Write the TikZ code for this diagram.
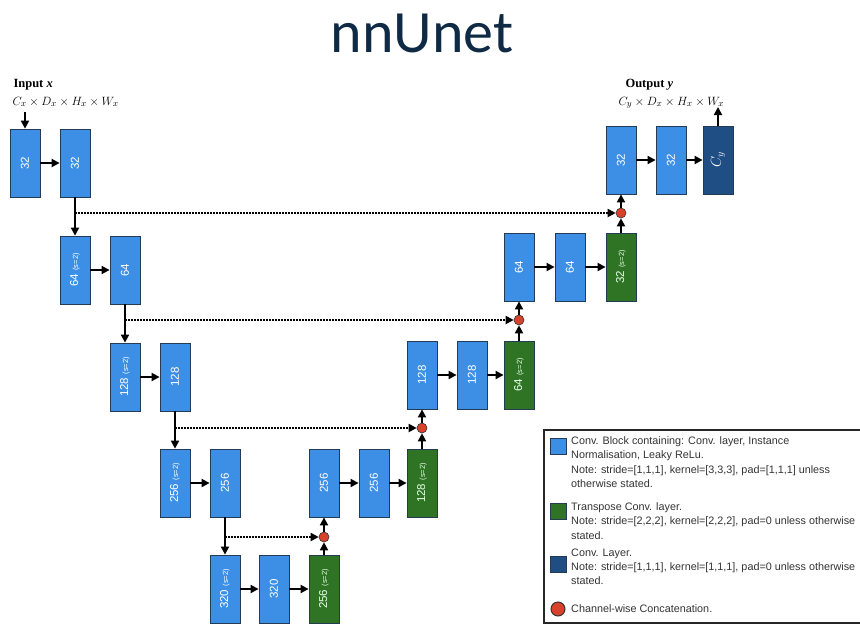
\documentclass[tikz,border=0pt]{standalone}
\usepackage{fontspec}
\setmainfont{Liberation Serif}
\setsansfont{Liberation Sans}
\newfontfamily\titlefont{Carlito}
\usetikzlibrary{arrows.meta}
\definecolor{convcol}{HTML}{3D8FE6}
\definecolor{tconvcol}{HTML}{2E7424}
\definecolor{outcol}{HTML}{1F4E84}
\definecolor{catcol}{HTML}{D8412C}
\definecolor{edgecol}{HTML}{243B55}
\definecolor{titlecol}{HTML}{0E2A45}
\definecolor{legcol}{HTML}{333333}
\newcommand{\strd}{\hspace{3.5pt}{\fontsize{7.5}{7.5}\selectfont(s=2)}}

\begin{document}
\begin{tikzpicture}[x=1pt,y=-1pt,>={Triangle[length=8pt,width=8pt]},
  blk/.style={rectangle,draw=edgecol,line width=0.8pt,minimum width=68pt,minimum height=30pt,inner sep=0pt,rotate=90,text=white,font=\sffamily\fontsize{11.5}{11.5}\selectfont},
  conv/.style={blk,fill=convcol},
  tconv/.style={blk,fill=tconvcol,text=green!10},
  outc/.style={blk,fill=outcol},
  cat/.style={circle,draw=black!80,fill=catcol,minimum size=10pt,inner sep=0pt,line width=0.6pt},
  arr/.style={->,line width=1.8pt},
  skip/.style={->,line width=1.8pt,dash pattern=on 1.5pt off 1.5pt},
  legsq/.style={rectangle,draw=edgecol,line width=0.8pt,minimum size=16pt,inner sep=0pt},
  legtxt/.style={align=left,inner sep=0pt,text=legcol,font=\sffamily\fontsize{10.8}{14.3}\selectfont}]
\clip (0,0) rectangle (860,627);
% title and in/out labels
\node[font=\titlefont\fontsize{60}{60}\selectfont,text=titlecol,anchor=base] (title) at (422,52) {nnUnet};
\node[anchor=base west,font=\fontsize{12.5}{14}\selectfont\bfseries] (inlab) at (10,87) {Input \textit{x}};
\node[anchor=base west,font=\fontsize{12.5}{14}\selectfont] (indim) at (9,105) {$C_x\times D_x\times H_x\times W_x$};
\node[anchor=base west,font=\fontsize{12.5}{14}\selectfont\bfseries] (outlab) at (622,87) {Output \textit{y}};
\node[anchor=base west,font=\fontsize{12.5}{14}\selectfont] (outdim) at (615,105) {$C_y\times D_x\times H_x\times W_x$};
\coordinate (inp) at (25,112);
\coordinate (outp) at (718,107);
% encoder
\node[conv] (enc0a) at (25,163) {32};
\node[conv] (enc0b) at (75,163) {32};
\node[conv] (enc1a) at (75,270) {64\strd};
\node[conv] (enc1b) at (125,270) {64};
\node[conv] (enc2a) at (125,377) {128\strd};
\node[conv] (enc2b) at (175,377) {128};
\node[conv] (enc3a) at (175,483) {256\strd};
\node[conv] (enc3b) at (225,483) {256};
% bottleneck
\node[conv] (bota) at (225,589) {320\strd};
\node[conv] (botb) at (274,589) {320};
\node[tconv] (up4) at (324,589) {256\strd};
% decoder
\node[conv] (dec3a) at (324,483) {256};
\node[conv] (dec3b) at (374,483) {256};
\node[tconv] (up3) at (422,483) {128\strd};
\node[conv] (dec2a) at (422,375) {128};
\node[conv] (dec2b) at (472,375) {128};
\node[tconv] (up2) at (519,375) {64\strd};
\node[conv] (dec1a) at (519,267) {64};
\node[conv] (dec1b) at (570,267) {64};
\node[tconv] (up1) at (621,267) {32\strd};
\node[conv] (dec0a) at (621,160) {32};
\node[conv] (dec0b) at (671,160) {32};
\node[outc] (head) at (718,160) {\Large$C_y$};
% concatenations
\node[cat] (cat3) at (324,537) {};
\node[cat] (cat2) at (422,428) {};
\node[cat] (cat1) at (519,320) {};
\node[cat] (cat0) at (621,213) {};
% connectors
\draw[arr] (inp) -- (enc0a);
\draw[arr] (enc0a) -- (enc0b);
\draw[arr] (enc0b) -- (enc1a);
\draw[arr] (enc1a) -- (enc1b);
\draw[arr] (enc1b) -- (enc2a);
\draw[arr] (enc2a) -- (enc2b);
\draw[arr] (enc2b) -- (enc3a);
\draw[arr] (enc3a) -- (enc3b);
\draw[arr] (enc3b) -- (bota);
\draw[arr] (bota) -- (botb);
\draw[arr] (botb) -- (up4);
\draw[arr] (up4) -- (cat3);
\draw[arr] (cat3) -- (dec3a);
\draw[arr] (dec3a) -- (dec3b);
\draw[arr] (dec3b) -- (up3);
\draw[arr] (up3) -- (cat2);
\draw[arr] (cat2) -- (dec2a);
\draw[arr] (dec2a) -- (dec2b);
\draw[arr] (dec2b) -- (up2);
\draw[arr] (up2) -- (cat1);
\draw[arr] (cat1) -- (dec1a);
\draw[arr] (dec1a) -- (dec1b);
\draw[arr] (dec1b) -- (up1);
\draw[arr] (up1) -- (cat0);
\draw[arr] (cat0) -- (dec0a);
\draw[arr] (dec0a) -- (dec0b);
\draw[arr] (dec0b) -- (head);
\draw[arr] (head) -- (outp);
% skip connections
\draw[skip] (enc0b |- cat0) -- (cat0);
\draw[skip] (enc1b |- cat1) -- (cat1);
\draw[skip] (enc2b |- cat2) -- (cat2);
\draw[skip] (enc3b |- cat3) -- (cat3);
% legend
\draw[line width=1.6pt,draw=black!85] (544,430) rectangle (866,623);
\node[legsq,fill=convcol] (keyconv) at (558.5,446.5) {};
\node[legsq,fill=tconvcol] (keytconv) at (558.5,511) {};
\node[legsq,fill=outcol] (keyout) at (558.5,564.5) {};
\node[cat,minimum size=14pt,line width=1pt] (keycat) at (558,609) {};
\node[legtxt,anchor=north west] (txtconv) at (571,436.5) {Conv. Block containing: Conv. layer, Instance\\Normalisation, Leaky ReLu.\\Note: stride=[1,1,1], kernel=[3,3,3], pad=[1,1,1] unless\\otherwise stated.};
\node[legtxt,anchor=north west] (txttconv) at (571,502.5) {Transpose Conv. layer.\\Note: stride=[2,2,2], kernel=[2,2,2], pad=0 unless otherwise\\stated.};
\node[legtxt,anchor=north west] (txtout) at (571,548.5) {Conv. Layer.\\Note: stride=[1,1,1], kernel=[1,1,1], pad=0 unless otherwise\\stated.};
\node[legtxt,anchor=west] (txtcat) at (571,609) {Channel-wise Concatenation.};
\end{tikzpicture}
\end{document}
